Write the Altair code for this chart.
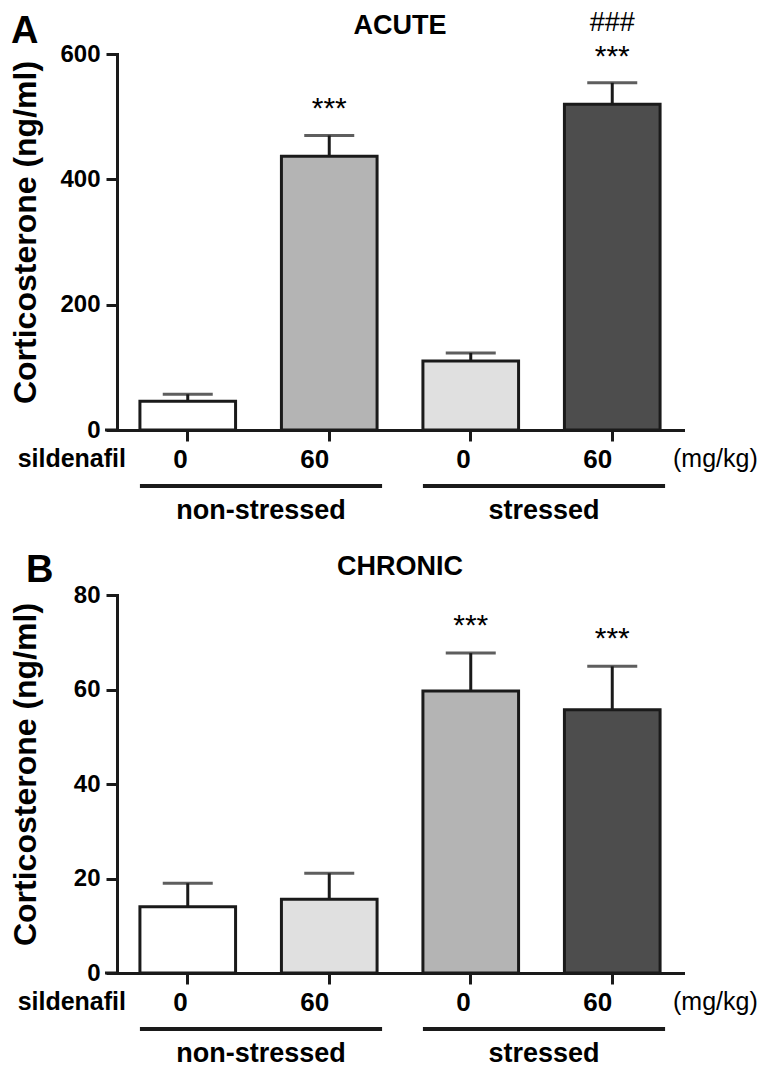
import altair as alt
import pandas as pd

# ---------------- data ----------------
groups = ["ns0", "ns60", "s0", "s60"]
dose_labels = ["0", "60", "0", "60"]
group_names = ["non-stressed", "stressed"]
y_title = "Corticosterone (ng/ml)"

acute_mean = [46, 437, 110, 520]
acute_sem = [11, 33, 13, 34]
acute_fill = ["#ffffff", "#b4b4b4", "#e0e0e0", "#4d4d4d"]
acute_stars = ["", "***", "", "***"]
acute_hash = ["", "", "", "###"]
acute_ticks = [0, 200, 400, 600]

chronic_mean = [14.0, 15.6, 59.7, 55.7]
chronic_sem = [5.0, 5.5, 8.0, 9.2]
chronic_fill = ["#ffffff", "#e0e0e0", "#b4b4b4", "#4d4d4d"]
chronic_stars = ["", "", "***", "***"]
chronic_hash = ["", "", "", ""]
chronic_ticks = [0, 20, 40, 60, 80]

# ---------------- layout ----------------
FONT = "Liberation Sans"
INK = "#1a1a1a"
W = 566
PAD_IN = 0.324
PAD_OUT = 0.162
STEP = W / (len(groups) - PAD_IN + 2 * PAD_OUT)
BANDW = STEP * (1 - PAD_IN)
OUTER = PAD_OUT * STEP

label_expr = "".join(
    f"datum.value === '{g}' ? '{d}' : " for g, d in zip(groups, dose_labels)
) + "''"


def text_layer(label, x, y, size, weight="bold", align="center"):
    return alt.Chart(pd.DataFrame({"t": [label]})).mark_text(
        font=FONT, fontSize=size, fontWeight=weight, align=align,
        baseline="alphabetic", color="black"
    ).encode(x=alt.value(x), y=alt.value(y), text="t:N")


def panel(mean, sem, fill, stars, hashes, ymax, yticks, H, letter, letter_x,
          letter_y, title, star_dy):
    df = pd.DataFrame({"grp": groups, "mean": mean, "sem": sem,
                       "stars": stars, "hash": hashes})
    base = alt.Chart(df).transform_calculate(hi="datum.mean + datum.sem")
    xs = alt.Scale(domain=groups, paddingInner=PAD_IN, paddingOuter=PAD_OUT)
    ys = alt.Scale(domain=[0, ymax], nice=False, zero=True)
    x_main = alt.X("grp:N", sort=groups, scale=xs, title=None,
                   axis=alt.Axis(labelExpr=label_expr, labelAngle=0))
    x_plain = alt.X("grp:N", sort=groups, scale=xs, title=None)
    y_main = alt.Y("mean:Q", scale=ys, title=y_title,
                   axis=alt.Axis(values=yticks, titleX=-82, titleY=H / 2 - 10,
                                 titleBaseline="alphabetic", titleAngle=270,
                                 titleAlign="center"))

    err = base.mark_rule(color=INK, strokeWidth=3).encode(
        x=x_plain, y=alt.Y("mean:Q", scale=ys, title=y_title), y2="hi:Q")
    bars = base.mark_bar(stroke=INK, strokeWidth=3).encode(
        x=x_main, y=y_main,
        color=alt.Color("grp:N", scale=alt.Scale(domain=groups, range=fill),
                        legend=None))
    cap = base.mark_tick(color=INK, thickness=3, size=50).encode(
        x=x_plain, y=alt.Y("hi:Q", scale=ys, title=y_title))
    star = base.mark_text(font=FONT, fontSize=30, baseline="alphabetic",
                          dy=star_dy, color="black").encode(
        x=x_plain, y=alt.Y("hi:Q", scale=ys, title=y_title), text="stars:N")
    hsh = base.mark_text(font=FONT, fontSize=27, baseline="alphabetic",
                         dy=-52, color="black").encode(
        x=x_plain, y=alt.Y("hi:Q", scale=ys, title=y_title), text="hash:N")

    # small extension of the x-axis line to the left of the y-axis
    ext = alt.Chart(pd.DataFrame({"t": [0]})).mark_rule(
        color=INK, strokeWidth=3).encode(
        x=alt.value(-12), x2=alt.value(0), y=alt.value(H))

    layers = [err, bars, cap, star, hsh, ext]
    layers.append(text_layer(letter, letter_x, letter_y, 38, align="left"))
    layers.append(text_layer(title, W / 2, -20, 27))
    layers.append(text_layer("sildenafil", 9, H + 37, 25, align="right"))
    layers.append(text_layer("(mg/kg)", W - 10, H + 37, 25, weight="normal",
                             align="left"))
    for i, name in enumerate(group_names):
        x1 = OUTER + 2 * i * STEP
        x2 = OUTER + (2 * i + 1) * STEP + BANDW + 5
        layers.append(
            alt.Chart(pd.DataFrame({"t": [name]})).mark_rule(
                color=INK, strokeWidth=4).encode(
                x=alt.value(x1), x2=alt.value(x2), y=alt.value(H + 56)))
        layers.append(text_layer(name, (x1 + x2) / 2, H + 89, 27))

    return alt.layer(*layers).properties(width=W, height=H)


pA = panel(acute_mean, acute_sem, acute_fill, acute_stars, acute_hash, 600,
           acute_ticks, 376, "A", -106, -11, "ACUTE", -17)
pB = panel(chronic_mean, chronic_sem, chronic_fill, chronic_stars,
           chronic_hash, 80, chronic_ticks, 378, "B", -91, -13, "CHRONIC", -18)

chart = alt.vconcat(pA, pB, spacing=28).resolve_scale(
    color="independent"
).properties(
    padding=0
).configure_view(
    stroke=None
).configure_axis(
    domainColor=INK, domainWidth=3, domainCap="square", tickColor=INK,
    tickWidth=3, tickSize=11, labelColor="black", labelFont=FONT,
    labelFontWeight="bold", grid=False, titleFont=FONT, titleColor="black",
    titleFontWeight="bold", titleFontSize=32
).configure_axisX(
    labelFontSize=26, labelBaseline="alphabetic", labelPadding=26
).configure_axisY(
    labelFontSize=24, labelPadding=6
)

chart.save("out.html", embed_options={"renderer": "svg", "actions": False})
